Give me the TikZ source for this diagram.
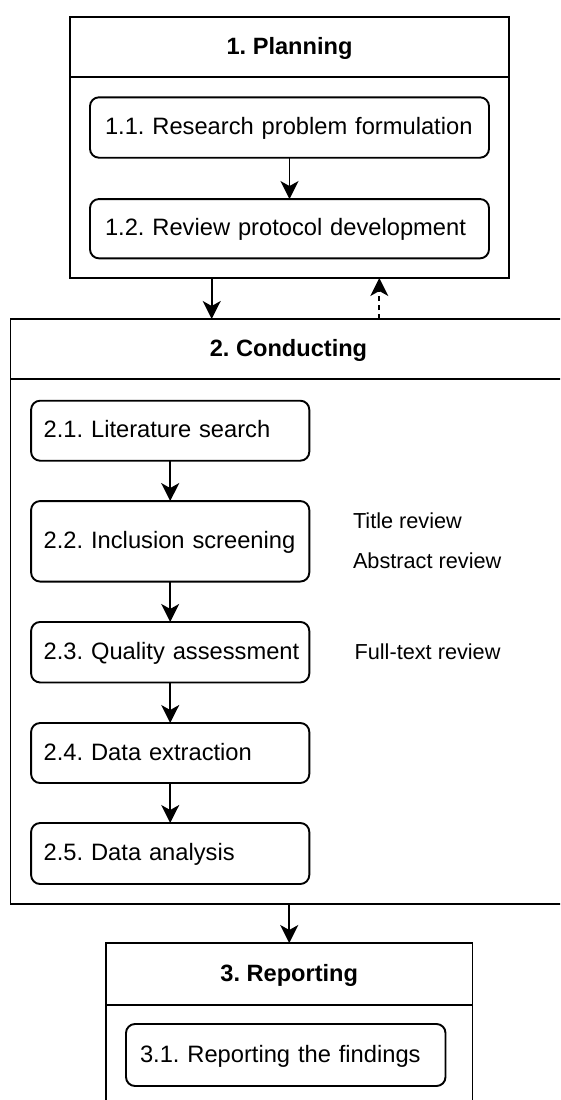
\documentclass[tikz,border=0pt]{standalone}
\usepackage{fontspec}
\setmainfont{Liberation Sans}
\usetikzlibrary{arrows.meta,calc}
\frenchspacing

\begin{document}
\begin{tikzpicture}[x=1pt,y=-1pt,
  every node/.style={outer sep=0pt},
  frame/.style={draw, line width=1.9pt, rectangle, inner sep=0pt},
  headtext/.style={font=\fontsize{23.6}{28}\selectfont\bfseries,
    text height=17pt, text depth=1.4pt, inner sep=0pt},
  stepbox/.style={draw, line width=1.9pt, rectangle, rounded corners=9pt,
    font=\fontsize{23.7}{28}\selectfont, align=left,
    text height=17pt, text depth=2.6pt, inner ysep=0pt},
  sidenote/.style={font=\fontsize{21.7}{26}\selectfont, anchor=base west, inner sep=0pt},
  flow/.style={line width=1.8pt, -{Stealth[length=18pt,width=18pt,inset=5pt]}},
  sep/.style={line width=1.9pt},
]
\useasboundingbox (0,0) rectangle (560,1100);
\clip (0,0) rectangle (560,1100);

% ---------- 1. Planning ----------
\node[frame, minimum width=439pt, minimum height=261pt] (plan) at (289.5,147.5) {};
\node[headtext, minimum width=439pt, minimum height=60pt, anchor=north] (planhead) at (plan.north) {1. Planning};
\draw[sep] (plan.west |- planhead.south) -- (plan.east |- planhead.south);

\node[stepbox, minimum height=60.4pt, inner xsep=15pt, text width=369pt] (s11) at (289.5,127.5)
  {\mbox{1.1. Research problem formulation}};
\node[stepbox, minimum height=59.3pt, inner xsep=15pt, text width=369pt] (s12) at (289.5,228.7)
  {\mbox{1.2. Review protocol development}};
\draw[flow] (s11.south) -- (s12.north);

% ---------- 2. Conducting ----------
\node[frame, minimum width=556pt, minimum height=585pt] (cond) at (288.5,611.5) {};
\node[headtext, minimum width=556pt, minimum height=60pt, anchor=north] (condhead) at (cond.north) {2. Conducting};
\draw[sep] (cond.west |- condhead.south) -- (cond.east |- condhead.south);

\tikzset{cstep/.style={stepbox, inner xsep=12.6pt, text width=253pt}}
\node[cstep, minimum height=60pt]   (s21) at (170.2,430.7) {\mbox{2.1. Literature search}};
\node[cstep, minimum height=80.5pt] (s22) at (170.2,541.3) {\mbox{2.2. Inclusion screening}};
\node[cstep, minimum height=60.5pt] (s23) at (170.2,652.2) {\mbox{2.3. Quality assessment}};
\node[cstep, minimum height=60pt]   (s24) at (170.2,753)   {\mbox{2.4. Data extraction}};
\node[cstep, minimum height=61pt]   (s25) at (170.2,853.5) {\mbox{2.5. Data analysis}};

\draw[flow] (s21.south) -- (s22.north);
\draw[flow] (s22.south) -- (s23.north);
\draw[flow] (s23.south) -- (s24.north);
\draw[flow] (s24.south) -- (s25.north);

\node[sidenote] (title) at (353,528.3) {Title review};
\node[sidenote] (abstr) at (353,568.3) {Abstract review};
\node[sidenote] (fullt) at (354.6,659) {Full-text review};

% ---------- links between phases ----------
\coordinate (downx) at (211.7,0);
\coordinate (upx) at (379.3,0);
\draw[flow] (plan.south -| downx) -- (cond.north -| downx);
\draw[flow, dash pattern=on 5pt off 4pt] (cond.north -| upx) -- (plan.south -| upx);

% ---------- 3. Reporting ----------
\node[frame, minimum width=366.5pt, minimum height=220pt] (rep) at (289.25,1053) {};
\node[headtext, minimum width=366.5pt, minimum height=62pt, anchor=north] (rephead) at (rep.north) {3. Reporting};
\draw[sep] (rep.west |- rephead.south) -- (rep.east |- rephead.south);

\node[stepbox, minimum height=62pt, inner xsep=14pt, text width=291.5pt] (s31) at (285.75,1055)
  {\mbox{3.1. Reporting the findings}};

\draw[flow] (cond.south -| rep.north) -- (rep.north);
\end{tikzpicture}
\end{document}
